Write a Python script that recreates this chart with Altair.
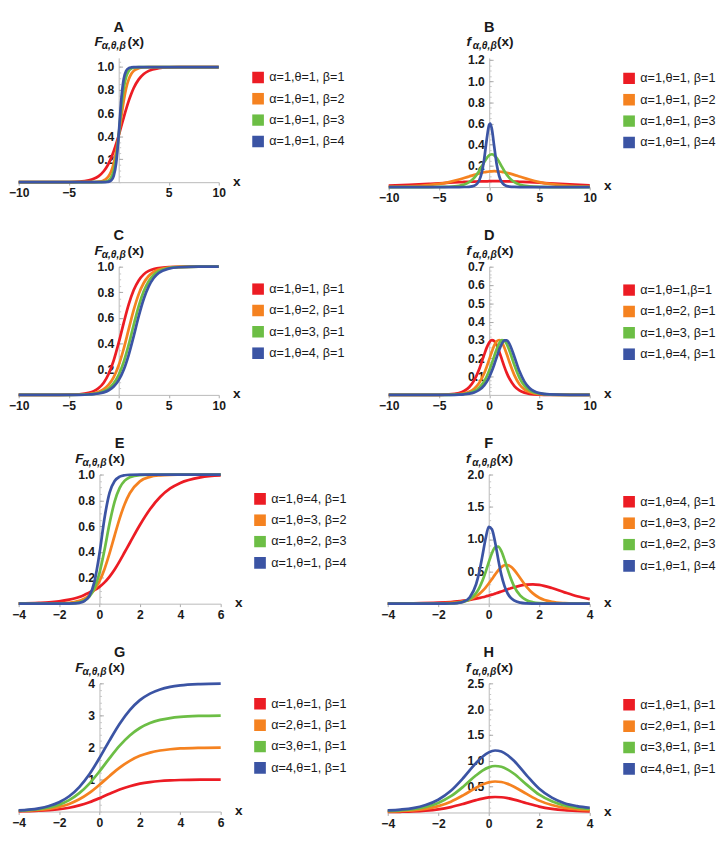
import altair as alt
import pandas as pd

COLORS = ["#EC1C24", "#F58220", "#6CBE45", "#3B54A4"]
FONT = "Liberation Sans"
INK = "#1a1a1a"
TICK = "#a8a8a8"

# ---------------- Panel A : F, beta varies ----------------
A_x = [-10, -8, -6, -5, -4, -3, -2.5, -2, -1.5, -1.25, -1, -0.75, -0.5, -0.25, 0, 0.25, 0.5, 0.75, 1, 1.25, 1.5, 2, 2.5, 3, 4, 5, 6, 8, 10]
A_red = [0, 0, 0.0004, 0.0013, 0.0046, 0.0159, 0.0293, 0.0534, 0.0953, 0.126, 0.1645, 0.212, 0.269, 0.335, 0.407, 0.484, 0.562, 0.637, 0.706, 0.766, 0.818, 0.893, 0.940, 0.967, 0.990, 0.997, 0.999, 1, 1]
A_orange = [0, 0, 0, 0, 0, 0.0004, 0.0013, 0.0046, 0.0159, 0.0293, 0.0534, 0.0953, 0.1645, 0.269, 0.407, 0.562, 0.706, 0.818, 0.893, 0.940, 0.967, 0.990, 0.997, 0.999, 1, 1, 1, 1, 1]
A_green = [0, 0, 0, 0, 0, 0, 0.0001, 0.0004, 0.0027, 0.0067, 0.0168, 0.041, 0.098, 0.215, 0.408, 0.636, 0.815, 0.917, 0.966, 0.986, 0.994, 0.999, 1, 1, 1, 1, 1, 1, 1]
A_blue = [0, 0, 0, 0, 0, 0, 0, 0, 0.0004, 0.0014, 0.0047, 0.0163, 0.0547, 0.168, 0.413, 0.711, 0.896, 0.968, 0.9905, 0.997, 0.999, 1, 1, 1, 1, 1, 1, 1, 1]
A_labels = ["α=1,θ=1, β=1", "α=1,θ=1, β=2", "α=1,θ=1, β=3", "α=1,θ=1, β=4"]

# ---------------- Panel B : f, beta varies ----------------
B_x = [-10, -8, -6, -5, -4, -3, -2.5, -2, -1.5, -1.25, -1, -0.75, -0.5, -0.25, 0, 0.1, 0.25, 0.5, 0.75, 1, 1.25, 1.5, 2, 2.5, 3, 4, 5, 6, 8, 10]
B_red = [0.014, 0.021, 0.030, 0.035, 0.041, 0.046, 0.048, 0.050, 0.052, 0.0525, 0.053, 0.054, 0.054, 0.0545, 0.055, 0.055, 0.055, 0.055, 0.055, 0.055, 0.0545, 0.054, 0.053, 0.052, 0.050, 0.046, 0.041, 0.035, 0.025, 0.017]
B_orange = [0.0024, 0.0067, 0.0184, 0.0298, 0.047, 0.0708, 0.0851, 0.100, 0.115, 0.122, 0.129, 0.135, 0.140, 0.144, 0.147, 0.148, 0.149, 0.150, 0.149, 0.147, 0.144, 0.140, 0.129, 0.115, 0.100, 0.0708, 0.047, 0.0298, 0.0111, 0.0040]
B_green = [0, 0, 0.0002, 0.0007, 0.0029, 0.0117, 0.0235, 0.046, 0.0869, 0.1165, 0.1525, 0.193, 0.236, 0.2736, 0.300, 0.3065, 0.31, 0.300, 0.274, 0.236, 0.193, 0.1525, 0.0869, 0.046, 0.0235, 0.0058, 0.0014, 0.0003, 0, 0]
B_blue = [0, 0, 0, 0, 0, 0.0001, 0.0004, 0.0024, 0.0123, 0.0278, 0.0621, 0.1336, 0.265, 0.4497, 0.589, 0.599, 0.554, 0.381, 0.210, 0.102, 0.0467, 0.0208, 0.004, 0.0008, 0.0001, 0, 0, 0, 0, 0]
B_labels = ["α=1,θ=1, β=1", "α=1,θ=1, β=2", "α=1,θ=1, β=3", "α=1,θ=1, β=4"]

# ---------------- Panel C : F, theta varies ----------------
C_x = [-10, -8, -6, -5, -4, -3, -2.5, -2, -1.5, -1, -0.5, 0, 0.5, 1, 1.5, 2, 2.5, 3, 3.5, 4, 5, 6, 8, 10]
C_red = [0, 0, 0.0004, 0.0013, 0.0046, 0.0159, 0.0293, 0.0534, 0.0953, 0.1645, 0.269, 0.407, 0.562, 0.706, 0.818, 0.893, 0.940, 0.967, 0.982, 0.990, 0.997, 0.999, 1, 1]
C_orange = [0, 0, 0.0002, 0.0006, 0.002, 0.007, 0.0131, 0.0242, 0.0442, 0.0794, 0.139, 0.231, 0.360, 0.5125, 0.663, 0.786, 0.873, 0.9276, 0.960, 0.978, 0.9936, 0.998, 1, 1]
C_green = [0, 0, 0.0001, 0.0004, 0.0012, 0.0043, 0.0081, 0.0149, 0.0276, 0.0503, 0.090, 0.156, 0.257, 0.392, 0.547, 0.693, 0.808, 0.887, 0.936, 0.965, 0.9897, 0.997, 1, 1]
C_blue = [0, 0, 0.0001, 0.0003, 0.0009, 0.0031, 0.0057, 0.0106, 0.0196, 0.036, 0.065, 0.115, 0.196, 0.313, 0.459, 0.614, 0.748, 0.847, 0.912, 0.951, 0.985, 0.9958, 1, 1]
C_labels = ["α=1,θ=1, β=1", "α=1,θ=2, β=1", "α=1,θ=3, β=1", "α=1,θ=4, β=1"]

# ---------------- Panel D : f, theta varies ----------------
D_x = [-10, -8, -6, -5, -4, -3, -2.5, -2, -1.5, -1, -0.5, -0.25, 0, 0.25, 0.5, 0.75, 1, 1.25, 1.5, 1.75, 2, 2.5, 3, 3.5, 4, 5, 6, 8, 10]
D_red = [0, 0, 0.0001, 0.0006, 0.0026, 0.0106, 0.0212, 0.0419, 0.0791, 0.140, 0.220, 0.258, 0.2865, 0.2996, 0.294, 0.271, 0.236, 0.195, 0.1545, 0.119, 0.0896, 0.048, 0.0243, 0.0122, 0.006, 0.0015, 0.0004, 0, 0]
D_orange = [0, 0, 0.0001, 0.0002, 0.001, 0.0042, 0.0085, 0.017, 0.0337, 0.0649, 0.118, 0.154, 0.194, 0.234, 0.270, 0.293, 0.2998, 0.2875, 0.259, 0.2216, 0.1806, 0.1078, 0.0586, 0.0302, 0.0152, 0.0037, 0.0009, 0, 0]
D_green = [0, 0, 0, 0.0001, 0.0006, 0.0024, 0.0049, 0.0098, 0.0198, 0.039, 0.0745, 0.1005, 0.133, 0.171, 0.212, 0.251, 0.282, 0.2985, 0.2966, 0.2767, 0.2436, 0.163, 0.0948, 0.0508, 0.026, 0.0065, 0.0016, 0.0001, 0]
D_blue = [0, 0, 0, 0.0001, 0.0004, 0.0016, 0.0033, 0.0066, 0.0134, 0.0267, 0.0522, 0.0717, 0.0971, 0.1287, 0.166, 0.207, 0.2466, 0.279, 0.2974, 0.2978, 0.280, 0.2087, 0.130, 0.0726, 0.038, 0.0096, 0.0023, 0.0001, 0]
D_labels = ["α=1,θ=1,β=1", "α=1,θ=2, β=1", "α=1,θ=3, β=1", "α=1,θ=4, β=1"]

# ---------------- Panel E : F, theta & beta vary ----------------
E_x = [-4, -3, -2.5, -2, -1.5, -1.25, -1, -0.75, -0.5, -0.25, 0, 0.25, 0.5, 0.75, 1, 1.25, 1.5, 2, 2.5, 3, 3.5, 4, 5, 6]
E_red = [0.002, 0.006, 0.010, 0.018, 0.031, 0.040, 0.052, 0.068, 0.087, 0.105, 0.130, 0.165, 0.21, 0.265, 0.33, 0.40, 0.47, 0.609, 0.731, 0.826, 0.892, 0.935, 0.978, 0.9925]
E_orange = [0, 0.0003, 0.0008, 0.0025, 0.0075, 0.013, 0.0224, 0.0383, 0.065, 0.108, 0.174, 0.269, 0.391, 0.528, 0.661, 0.772, 0.855, 0.947, 0.982, 0.994, 0.998, 0.999, 1, 1]
E_green = [0, 0, 0.0001, 0.0004, 0.0021, 0.0048, 0.011, 0.0249, 0.0556, 0.119, 0.2375, 0.4174, 0.6225, 0.791, 0.897, 0.9526, 0.979, 0.996, 0.9992, 1, 1, 1, 1, 1]
E_blue = [0, 0, 0, 0.0001, 0.0007, 0.0022, 0.0067, 0.0205, 0.0614, 0.169, 0.388, 0.664, 0.860, 0.950, 0.9836, 0.9947, 0.9983, 1, 1, 1, 1, 1, 1, 1]
E_labels = ["α=1,θ=4, β=1", "α=1,θ=3, β=2", "α=1,θ=2, β=3", "α=1,θ=1, β=4"]

# ---------------- Panel F : f, theta & beta vary ----------------
F_x = [-4, -3, -2, -1.5, -1.25, -1, -0.75, -0.5, -0.375, -0.25, -0.125, 0, 0.125, 0.25, 0.375, 0.5, 0.625, 0.75, 0.875, 1, 1.25, 1.5, 1.75, 2, 2.5, 3, 3.5, 4]
F_red = [0.0015, 0.0047, 0.0151, 0.0266, 0.0351, 0.0465, 0.0603, 0.078, 0.0887, 0.0997, 0.112, 0.126, 0.140, 0.156, 0.172, 0.189, 0.206, 0.223, 0.239, 0.254, 0.280, 0.296, 0.2997, 0.291, 0.242, 0.176, 0.115, 0.070]
F_orange = [0, 0.0003, 0.0033, 0.0112, 0.0203, 0.037, 0.066, 0.116, 0.152, 0.196, 0.249, 0.312, 0.380, 0.450, 0.515, 0.566, 0.595, 0.598, 0.573, 0.526, 0.394, 0.262, 0.160, 0.093, 0.029, 0.0088, 0.0026, 0.0008]
F_green = [0, 0, 0.0009, 0.0052, 0.0125, 0.0303, 0.072, 0.166, 0.246, 0.354, 0.489, 0.641, 0.781, 0.872, 0.884, 0.813, 0.682, 0.531, 0.389, 0.273, 0.124, 0.053, 0.022, 0.0091, 0.0015, 0.0003, 0, 0]
F_blue = [0, 0, 0.0003, 0.003, 0.0097, 0.0316, 0.101, 0.301, 0.491, 0.743, 1.005, 1.19, 1.153, 0.956, 0.689, 0.447, 0.272, 0.158, 0.090, 0.0506, 0.0157, 0.0048, 0.0014, 0.0004, 0, 0, 0, 0]
F_labels = ["α=1,θ=4, β=1", "α=1,θ=3, β=2", "α=1,θ=2, β=3", "α=1,θ=1, β=4"]

# ---------------- Panel G : F, alpha varies ----------------
G_x = [-4, -3.5, -3, -2.5, -2, -1.5, -1, -0.5, 0, 0.5, 1, 1.5, 2, 2.5, 3, 3.5, 4, 5, 6]
G_red = [0.008, 0.015, 0.025, 0.043, 0.072, 0.119, 0.191, 0.291, 0.417, 0.555, 0.685, 0.791, 0.869, 0.920, 0.953, 0.972, 0.984, 0.995, 0.998]
G_orange = [0.017, 0.029, 0.050, 0.085, 0.144, 0.238, 0.382, 0.582, 0.835, 1.111, 1.370, 1.582, 1.737, 1.840, 1.905, 1.944, 1.968, 1.989, 1.996]
G_green = [0.025, 0.044, 0.075, 0.128, 0.216, 0.358, 0.573, 0.873, 1.252, 1.666, 2.055, 2.373, 2.606, 2.760, 2.858, 2.917, 2.952, 2.984, 2.995]
G_blue = [0.033, 0.058, 0.100, 0.171, 0.288, 0.477, 0.764, 1.164, 1.670, 2.221, 2.740, 3.164, 3.475, 3.680, 3.810, 3.889, 3.936, 3.978, 3.993]
G_labels = ["α=1,θ=1, β=1", "α=2,θ=1, β=1", "α=3,θ=1, β=1", "α=4,θ=1, β=1"]

# ---------------- Panel H : f, alpha varies ----------------
H_x = [-4, -3.5, -3, -2.5, -2, -1.5, -1, -0.5, -0.25, 0, 0.25, 0.5, 0.75, 1, 1.5, 2, 2.5, 3, 3.5, 4]
H_red = [0.010, 0.014, 0.021, 0.036, 0.062, 0.105, 0.168, 0.240, 0.270, 0.291, 0.300, 0.295, 0.277, 0.250, 0.180, 0.115, 0.072, 0.045, 0.031, 0.023]
H_orange = [0.020, 0.028, 0.042, 0.072, 0.124, 0.210, 0.336, 0.480, 0.540, 0.582, 0.600, 0.590, 0.554, 0.500, 0.360, 0.230, 0.144, 0.090, 0.062, 0.046]
H_green = [0.030, 0.042, 0.063, 0.108, 0.186, 0.315, 0.504, 0.720, 0.810, 0.873, 0.900, 0.885, 0.831, 0.750, 0.540, 0.345, 0.216, 0.135, 0.093, 0.069]
H_blue = [0.040, 0.056, 0.084, 0.144, 0.248, 0.420, 0.672, 0.960, 1.080, 1.164, 1.200, 1.180, 1.108, 1.000, 0.720, 0.460, 0.288, 0.180, 0.124, 0.092]
H_labels = ["α=1,θ=1, β=1", "α=2,θ=1, β=1", "α=3,θ=1, β=1", "α=4,θ=1, β=1"]


def make_df(xs, curves, labels):
    rows = []
    for ys, lab in zip(curves, labels):
        for x, y in zip(xs, ys):
            rows.append({"x": x, "y": y, "series": lab})
    return pd.DataFrame(rows)


def steps(lo, hi, step):
    n = int(round((hi - lo) / step))
    return [round(lo + i * step, 4) for i in range(n + 1)]


def panel(letter, fchar, xs, curves, labels, xdom, xticks, ytop, yticks, yminor, yfmt, w, h, legend_y):
    df = make_df(xs, curves, labels)
    x0 = w * (0 - xdom[0]) / (xdom[1] - xdom[0])
    xscale = alt.Scale(domain=xdom, nice=False, zero=False)
    yscale = alt.Scale(domain=[0, ytop], nice=False)
    lines = alt.Chart(df).mark_line(strokeWidth=2.8, interpolate="monotone").encode(
        x=alt.X("x:Q", scale=xscale,
                axis=alt.Axis(orient="bottom", values=xticks, format="d", title="x", titleX=w + 18, titleY=-1,
                              titleBaseline="middle", titleAngle=0, titleAlign="center",
                              titleFont=FONT, titleFontSize=14, titleFontWeight="bold", titleColor=INK,
                              labelFont=FONT, labelFontSize=12.5, labelFontWeight="bold", labelColor=INK,
                              labelPadding=2, labelFlush=False, tickSize=3, tickColor=TICK,
                              domainColor="#b8b8b8", grid=False)),
        y=alt.Y("y:Q", scale=yscale,
                axis=alt.Axis(orient="left", values=yticks, format=yfmt, title=None, offset=-x0,
                              labelFont=FONT, labelFontSize=12.5, labelFontWeight="bold", labelColor=INK,
                              labelPadding=5, ticks=False,
                              domainColor="#b8b8b8", grid=False)),
        color=alt.Color("series:N",
                        scale=alt.Scale(domain=labels, range=COLORS),
                        legend=alt.Legend(title=None, orient="none", legendX=w + 34, legendY=legend_y,
                                          symbolType="square", symbolSize=36, symbolStrokeWidth=6,
                                          labelFont=FONT, labelFontSize=13, labelColor=INK,
                                          labelOffset=5, rowPadding=9, clipHeight=12,
                                          padding=0, labelLimit=200)),
    )
    # inward tick marks on the y zero line (major and minor)
    major = alt.Chart(df).mark_point(opacity=0).encode(
        x=alt.X("x:Q", scale=xscale, axis=None),
        y=alt.Y("y:Q", scale=yscale,
                axis=alt.Axis(orient="right", offset=-(w - x0), values=yticks, labels=False, domain=False,
                              tickSize=4, tickColor=TICK, title=None, grid=False)),
    )
    minor = alt.Chart(df).mark_point(opacity=0).encode(
        x=alt.X("x:Q", scale=xscale, axis=None),
        y=alt.Y("y:Q", scale=yscale,
                axis=alt.Axis(orient="right", offset=-(w - x0), values=yminor, labels=False, domain=False,
                              tickSize=2, tickColor="#c4c4c4", title=None, grid=False)),
    )
    one = pd.DataFrame({"k": [0]})
    t_letter = alt.Chart(one).mark_text(
        text=letter, font=FONT, fontSize=15, fontWeight="bold", color=INK,
        align="center", baseline="middle").encode(x=alt.value(w / 2), y=alt.value(-32))
    t_f = alt.Chart(one).mark_text(
        text=fchar, font=FONT, fontSize=14, fontWeight="bold", fontStyle="italic", color=INK,
        align="left", baseline="middle", dx=-25 if fchar == "F" else -23.5).encode(
        x=alt.value(x0), y=alt.value(-16))
    t_sub = alt.Chart(one).mark_text(
        text="α,θ,β", font=FONT, fontSize=10.5, fontWeight="bold", fontStyle="italic", color=INK,
        align="left", baseline="middle", dx=-17.5 if fchar == "F" else -17).encode(
        x=alt.value(x0), y=alt.value(-12))
    t_x = alt.Chart(one).mark_text(
        text="(x)", font=FONT, fontSize=14, fontWeight="bold", color=INK,
        align="left", baseline="middle", dx=9 if fchar == "F" else 8).encode(
        x=alt.value(x0), y=alt.value(-16))
    return alt.layer(lines, minor, major, t_letter, t_f, t_sub, t_x).resolve_axis(
        x="independent", y="independent").properties(width=w, height=h)


pA = panel("A", "F", A_x, [A_red, A_orange, A_green, A_blue], A_labels, [-10, 10], [-10, -5, 5, 10],
           1.08, [0.2, 0.4, 0.6, 0.8, 1.0], steps(0, 1.05, 0.05), ".1f", 206, 128, 14)
pB = panel("B", "f", B_x, [B_red, B_orange, B_green, B_blue], B_labels, [-10, 10], [-10, -5, 0, 5, 10],
           1.22, [0.2, 0.4, 0.6, 0.8, 1.0, 1.2], steps(0, 1.2, 0.05), ".1f", 207, 133, 15)
pC = panel("C", "F", C_x, [C_red, C_orange, C_green, C_blue], C_labels, [-10, 10], [-10, -5, 0, 5, 10],
           1.0, [0.2, 0.4, 0.6, 0.8, 1.0], steps(0, 1.0, 0.05), ".1f", 206, 132, 17)
pD = panel("D", "f", D_x, [D_red, D_orange, D_green, D_blue], D_labels, [-10, 10], [-10, -5, 0, 5, 10],
           0.7, [0.1, 0.2, 0.3, 0.4, 0.5, 0.6, 0.7], steps(0, 0.7, 0.02), ".1f", 207, 132, 18)
pE = panel("E", "F", E_x, [E_red, E_orange, E_green, E_blue], E_labels, [-4, 6], [-4, -2, 0, 2, 4, 6],
           1.0, [0.2, 0.4, 0.6, 0.8, 1.0], steps(0, 1.0, 0.05), ".1f", 208, 133, 19)
pF = panel("F", "f", F_x, [F_red, F_orange, F_green, F_blue], F_labels, [-4, 4], [-4, -2, 0, 2, 4],
           2.0, [0.5, 1.0, 1.5, 2.0], steps(0, 2.0, 0.1), ".1f", 208, 133, 22)
pG = panel("G", "F", G_x, [G_red, G_orange, G_green, G_blue], G_labels, [-4, 6], [-4, -2, 0, 2, 4, 6],
           4.0, [1, 2, 3, 4], steps(0, 4.0, 0.2), "d", 208, 132, 15)
pH = panel("H", "f", H_x, [H_red, H_orange, H_green, H_blue], H_labels, [-4, 4], [-4, -2, 0, 2, 4],
           2.5, [0.5, 1.0, 1.5, 2.0, 2.5], steps(0, 2.5, 0.1), ".1f", 208, 133, 16)

rows = [alt.hconcat(a, b, spacing=34).resolve_scale(color="independent")
        for a, b in [(pA, pB), (pC, pD), (pE, pF), (pG, pH)]]

chart = alt.vconcat(*rows, spacing=25).resolve_scale(color="independent").properties(
    padding=0, background="white"
).configure_view(strokeWidth=0)

chart.save("out.html", embed_options={"renderer": "svg", "actions": False})
